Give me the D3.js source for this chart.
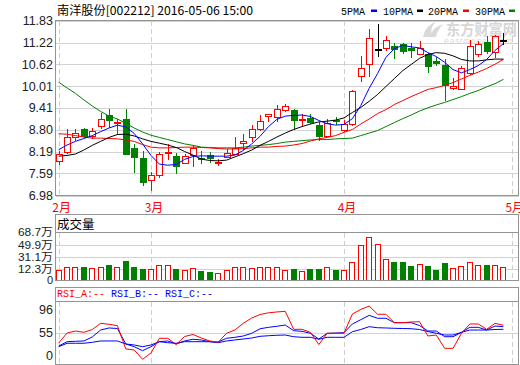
<!DOCTYPE html>
<html><head><meta charset="utf-8">
<script src="https://cdn.jsdelivr.net/npm/d3@7"></script>
<style>body{margin:0;background:#fff}svg{display:block}</style>
</head><body><svg id="c" width="520" height="365"></svg>
<script>
const dates = ["2016-02-15","2016-02-16","2016-02-17","2016-02-18","2016-02-19","2016-02-22","2016-02-23","2016-02-24","2016-02-25","2016-02-26","2016-02-29",
"2016-03-01","2016-03-02","2016-03-03","2016-03-04","2016-03-07","2016-03-08","2016-03-09","2016-03-10","2016-03-11","2016-03-14","2016-03-15","2016-03-16","2016-03-17","2016-03-18","2016-03-21","2016-03-22","2016-03-23","2016-03-24","2016-03-25","2016-03-28","2016-03-29","2016-03-30","2016-03-31",
"2016-04-01","2016-04-05","2016-04-06","2016-04-07","2016-04-08","2016-04-11","2016-04-12","2016-04-13","2016-04-14","2016-04-15","2016-04-18","2016-04-19","2016-04-20","2016-04-21","2016-04-22","2016-04-25","2016-04-26","2016-04-27","2016-04-28","2016-04-29"];
const open  = [7.93,8.19,8.60,8.82,8.64,8.91,9.21,9.00,9.11,8.30,8.03,7.40,7.54,8.17,8.08,7.89,8.10,8.03,8.09,7.90,8.05,8.14,8.43,8.60,8.81,9.19,9.15,9.36,9.34,9.08,9.12,8.93,8.64,9.07,8.80,8.95,10.29,10.63,11.03,11.07,11.12,11.18,11.07,10.91,10.89,10.72,10.61,9.97,9.94,10.38,10.91,11.23,10.96,11.30];
const high  = [8.21,8.82,8.82,8.86,8.86,9.27,9.37,9.09,9.37,8.41,8.21,7.64,8.19,8.41,8.16,8.12,8.39,8.21,8.19,7.98,8.28,8.60,8.69,8.93,9.21,9.25,9.50,9.52,9.38,9.23,9.25,9.02,9.09,9.15,9.07,9.90,10.86,11.60,11.72,11.40,11.21,11.21,11.21,11.26,10.94,10.82,10.77,10.24,10.56,11.28,11.26,11.41,11.42,11.47];
const low   = [7.84,8.17,8.52,8.60,8.58,8.86,8.87,8.69,8.12,7.64,7.28,7.13,7.49,8.00,7.60,7.87,7.79,7.89,7.90,7.82,8.04,8.12,8.28,8.49,8.79,9.04,9.04,9.33,8.81,8.92,8.99,8.53,8.63,8.97,8.76,8.93,10.15,10.29,10.86,11.01,10.80,10.93,10.83,10.90,10.40,10.60,9.62,9.92,9.92,10.35,10.84,10.93,10.82,11.19];
const close = [8.14,8.60,8.71,8.62,8.78,9.11,9.08,9.02,8.14,8.04,7.35,7.54,8.14,8.19,7.80,8.08,8.30,8.02,8.01,7.91,8.17,8.30,8.50,8.81,9.04,9.23,9.37,9.45,9.07,9.09,9.01,8.64,9.00,9.05,8.97,9.87,10.52,11.35,11.03,11.28,11.03,10.98,11.00,11.07,10.58,10.64,10.03,10.01,10.50,11.12,11.17,10.98,11.41,11.30];
const ma5  = [8.25,8.38,8.48,8.56,8.64,8.75,8.85,8.93,8.88,8.70,8.41,8.09,7.85,7.82,7.84,7.98,8.06,8.08,8.07,8.07,8.07,8.10,8.23,8.41,8.62,8.89,9.09,9.18,9.20,9.21,9.17,9.06,8.97,8.93,8.95,9.11,9.47,9.95,10.36,10.81,11.05,11.14,11.10,11.07,10.94,10.83,10.67,10.47,10.38,10.47,10.58,10.75,11.00,11.19];
const ma10 = [8.07,8.09,8.13,8.24,8.37,8.48,8.59,8.67,8.68,8.63,8.55,8.48,8.43,8.38,8.31,8.20,8.10,7.99,7.95,7.94,7.96,8.05,8.14,8.24,8.37,8.48,8.60,8.71,8.81,8.89,8.96,9.02,9.04,9.07,9.13,9.28,9.42,9.59,9.78,10.00,10.22,10.44,10.61,10.78,10.89,10.94,10.92,10.85,10.75,10.71,10.71,10.74,10.76,10.76];
const ma20 = [8.69,8.68,8.64,8.60,8.57,8.57,8.56,8.55,8.52,8.48,8.39,8.32,8.30,8.30,8.31,8.32,8.32,8.31,8.30,8.28,8.27,8.27,8.28,8.30,8.32,8.32,8.34,8.35,8.38,8.42,8.49,8.55,8.59,8.64,8.73,8.81,8.96,9.10,9.25,9.36,9.50,9.61,9.72,9.82,9.92,9.97,10.03,10.11,10.21,10.31,10.40,10.50,10.62,10.75];
const ma30 = [10.12,9.96,9.81,9.63,9.46,9.31,9.18,9.10,8.98,8.85,8.74,8.65,8.59,8.53,8.47,8.41,8.37,8.32,8.31,8.30,8.30,8.30,8.32,8.35,8.37,8.39,8.42,8.46,8.48,8.50,8.52,8.53,8.53,8.55,8.56,8.57,8.64,8.71,8.78,8.89,9.00,9.11,9.21,9.32,9.41,9.49,9.56,9.64,9.72,9.81,9.89,9.99,10.08,10.20];
const volume = [11.4,16.4,16.4,15.5,14.0,16.4,19.0,15.5,25.1,15.5,12.9,12.9,18.5,18.5,12.9,11.4,14.0,9.9,8.4,6.4,11.4,16.4,15.5,14.9,15.5,15.5,15.5,11.4,12.9,9.9,12.9,12.9,15.5,11.4,11.4,23.1,49.4,61.1,50.9,27.7,23.6,23.6,17.5,20.5,17.5,11.4,22.5,14.0,17.5,23.1,19.0,19.0,19.0,15.5];
const rsiA = [39.6,54.9,57.9,55.9,60.2,69.6,68.1,66.0,30.5,29.0,14.8,24.4,46.8,46.8,37.3,49.5,52.6,47.2,42.7,40.7,54.4,59.4,69.6,77.7,83.0,85.6,86.9,87.9,60.5,60.5,55.9,37.3,54.4,54.4,54.4,83.8,90.7,96.0,83.4,83.4,70.6,70.6,71.6,72.1,50.3,51.8,31.5,31.5,54.4,68.6,68.6,60.5,69.6,66.6];
const rsiB = [35.0,41.6,42.2,42.7,48.8,59.4,62.5,61.7,38.1,34.0,27.9,34.0,41.6,42.7,38.1,42.7,45.3,44.2,41.6,41.1,46.8,48.3,50.3,54.4,61.3,63.5,65.1,67.0,58.4,57.4,54.4,45.7,54.4,54.9,55.3,68.6,75.1,81.8,77.3,77.3,70.6,70.6,70.6,66.3,57.9,57.9,49.2,49.2,55.9,63.5,63.5,59.4,65.5,64.5];
const rsiC = [34.0,39.2,39.2,39.2,40.7,42.7,42.7,42.7,38.1,36.6,34.0,36.6,41.6,40.1,39.2,41.6,41.6,41.6,41.6,40.1,42.7,44.2,45.7,47.2,49.8,50.7,51.4,51.8,49.2,48.3,48.3,45.3,48.3,48.3,48.3,56.8,60.2,64.5,62.9,62.5,62.0,61.7,61.4,60.2,57.1,54.4,51.8,51.8,55.9,59.4,59.4,59.4,60.2,60.5];
const priceTicks = [6.98,7.59,8.19,8.80,9.41,10.01,10.62,11.22,11.83];
const volTicks = [0,12.3,31.1,49.9,68.7];
const rsiTicks = [0,55,96];
const monthLabels = ["2月","3月","4月","5月"];
const titleText = "南洋股份[002212] 2016-05-06 15:00";
const maNames = ["5PMA","10PMA","20PMA","30PMA"];
const maColors = ["#0000ff","#000000","#ff0000","#008000"];
const rsiNames = ["RSI_A:--","RSI_B:--","RSI_C:--"];
const rsiColors = ["#ff0000","#0000ff","#0000ff"];

const svg = d3.select("#c");
const L = 55.5, R = 518.5;
const P = {top:20.5, bottom:195.5};
const V = {top:214.5, sep:232.5, bottom:280.5};
const S = {top:287.5, sep:301.5, bottom:364.5};
const n = dates.length;
const RED = "#ff0000", GREEN = "#008000";
const numFont = '"Liberation Sans", Arial, "Noto Sans CJK SC", sans-serif';
const cjkFont = '"Noto Sans CJK SC", "Liberation Sans", sans-serif';
const monoFont = '"Liberation Mono", "DejaVu Sans Mono", monospace';

const x = d3.scaleLinear().domain([0, n]).range([58.7, 511.8]);
const yP = d3.scaleLinear().domain([priceTicks[0], priceTicks[priceTicks.length-1]]).range([P.bottom, P.top]);
const yV = d3.scaleLinear().domain([0, volTicks[volTicks.length-1]]).range([277.5, 232.3]);
const yR = d3.scaleLinear().domain([0, 96]).range([369, 306]);

const monthPos = monthLabels.map(m => {
  const mm = parseInt(m);
  const idx = dates.findIndex(d => +d.slice(5,7) === mm);
  return idx < 0 ? n : idx;
});

// watermark
const wm = svg.append("g");
wm.append("path").attr("d","M423,37 Q425,26 436,21.5 Q430,28 431.5,33 Q434,27 443.5,24 Q437,30 436,37 Z").attr("fill","#d9d9d9");
wm.append("text").attr("x",446).attr("y",35).attr("font-family",cjkFont).attr("font-weight","bold")
  .attr("font-size",15).attr("fill","#d6d6d6").attr("textLength",71).attr("lengthAdjust","spacingAndGlyphs").text("东方财富网");
wm.append("text").attr("x",444).attr("y",43.5).attr("font-family",numFont).attr("font-style","italic")
  .attr("font-size",8.5).attr("fill","#dadada").attr("textLength",68).attr("lengthAdjust","spacing").text("eastmoney.com");

// grids
const grid = svg.append("g").attr("shape-rendering","crispEdges");
priceTicks.forEach(t => {
  const yy = Math.round(yP(t)) + 0.5;
  grid.append("line").attr("x1",L).attr("x2",R).attr("y1",yy).attr("y2",yy).attr("stroke","#d2d2d2");
});
volTicks.slice(1).forEach(t => {
  const yy = Math.round(yV(t)) + 0.5;
  grid.append("line").attr("x1",L).attr("x2",R).attr("y1",yy).attr("y2",yy).attr("stroke","#d2d2d2");
});
{
  const yy = Math.round(yR(55)) + 0.5;
  grid.append("line").attr("x1",L).attr("x2",R).attr("y1",yy).attr("y2",yy).attr("stroke","#d2d2d2");
}
monthPos.forEach(idx => {
  const xx = Math.round(x(idx)) + 0.5;
  [[P.top,P.bottom],[V.sep,V.bottom],[S.sep,S.bottom]].forEach(([a,b]) => {
    grid.append("line").attr("x1",xx).attr("x2",xx).attr("y1",a).attr("y2",b)
      .attr("stroke","#cfcfcf").attr("stroke-dasharray","5,3");
  });
});

// candles
const cg = svg.append("g").attr("shape-rendering","crispEdges");
dates.forEach((d,i) => {
  const o = open[i], c = close[i];
  const col = c > o ? RED : (c < o ? GREEN : "#000000");
  const px = Math.round(x(i));
  const yt = Math.round(yP(Math.max(o,c))), yb = Math.round(yP(Math.min(o,c)));
  const yh = Math.round(yP(high[i])), yl = Math.round(yP(low[i]));
  cg.append("line").attr("x1",px+0.5).attr("x2",px+0.5).attr("y1",yh).attr("y2",yl+1).attr("stroke",col);
  if (yb - yt <= 1) {
    cg.append("rect").attr("x",px-3).attr("y",yt).attr("width",7).attr("height",2).attr("fill",col);
  } else if (c > o) {
    cg.append("rect").attr("x",px-2.5).attr("y",yt+0.5).attr("width",6).attr("height",yb-yt)
      .attr("fill","#fff").attr("stroke",RED);
  } else {
    cg.append("rect").attr("x",px-3).attr("y",yt).attr("width",7).attr("height",yb-yt+1).attr("fill",GREEN);
  }
});

// MA lines
const maSeries = [ma30, ma20, ma10, ma5];
const maCols = [maColors[3], maColors[2], maColors[1], maColors[0]];
const lineP = d3.line().x((d,i) => x(i)).y(d => yP(d));
maSeries.forEach((s,k) => {
  svg.append("path").attr("d", lineP(s)).attr("fill","none").attr("stroke",maCols[k]).attr("stroke-width",1);
});

// volume bars
const vg = svg.append("g").attr("shape-rendering","crispEdges");
volume.forEach((v,i) => {
  const up = close[i] >= open[i];
  const px = Math.round(x(i));
  const yt = Math.round(yV(v));
  if (up) {
    vg.append("rect").attr("x",px-2.5).attr("y",yt+0.5).attr("width",5).attr("height",279.5-yt)
      .attr("fill","#fff").attr("stroke",RED);
  } else {
    vg.append("rect").attr("x",px-3).attr("y",yt).attr("width",6).attr("height",280-yt).attr("fill",GREEN);
  }
});

// RSI lines
const lineR = d3.line().x((d,i) => x(i)).y(d => yR(d));
[rsiC, rsiB, rsiA].forEach((s,k) => {
  svg.append("path").attr("d", lineR(s)).attr("fill","none")
    .attr("stroke", [rsiColors[2], rsiColors[1], rsiColors[0]][k]).attr("stroke-width",1);
});

// borders
const bg = svg.append("g").attr("shape-rendering","crispEdges").attr("fill","none").attr("stroke","#939393");
bg.append("rect").attr("x",L).attr("y",P.top).attr("width",R-L).attr("height",P.bottom-P.top);
bg.append("rect").attr("x",L).attr("y",V.top).attr("width",R-L).attr("height",V.bottom-V.top);
bg.append("line").attr("x1",L).attr("x2",R).attr("y1",V.sep).attr("y2",V.sep);
bg.append("rect").attr("x",L).attr("y",S.top).attr("width",R-L).attr("height",S.bottom-S.top);
bg.append("line").attr("x1",L).attr("x2",R).attr("y1",S.sep).attr("y2",S.sep);

// axis labels
const ax = svg.append("g").attr("font-family",numFont).attr("font-size",12.5).attr("fill","#222").attr("text-anchor","end");
priceTicks.forEach(t => {
  ax.append("text").attr("x",53).attr("y",yP(t)).attr("dy","0.36em").text(t.toFixed(2));
});
volTicks.forEach(t => {
  const yy = t === 0 ? 280.5 : yV(t);
  const tx = ax.append("text").attr("x",53).attr("y",yy).attr("dy","0.36em").attr("font-size",11)
    .text(t === 0 ? "0" : t.toFixed(1) + "万");
  if (t !== 0) tx.attr("textLength",35).attr("lengthAdjust","spacingAndGlyphs");
});
rsiTicks.forEach(t => {
  const yy = Math.min(355, Math.max(309, yR(t)));
  ax.append("text").attr("x",53).attr("y",yy).attr("dy","0.36em").text(String(t));
});

// month labels
monthLabels.forEach((m,k) => {
  svg.append("text").attr("x", x(monthPos[k]) + 3).attr("y",211.5).attr("text-anchor","middle")
    .attr("font-family",cjkFont).attr("font-size",12).attr("fill",RED).text(m);
});

// title and legend
svg.append("text").attr("x",57).attr("y",15).attr("font-family",cjkFont).attr("font-size",12)
  .attr("fill","#000").attr("textLength",196).attr("lengthAdjust","spacingAndGlyphs").text(titleText);
const legX = [341, 383, 428, 475];
const legW = [24, 30, 30, 30];
const dashX = [371, 417, 463, 509];
maNames.forEach((nm,k) => {
  svg.append("text").attr("x",legX[k]).attr("y",14.5).attr("font-family",monoFont).attr("font-size",11)
    .attr("fill","#000").attr("textLength",legW[k]).attr("lengthAdjust","spacingAndGlyphs").text(nm);
  svg.append("rect").attr("x",dashX[k]).attr("y",9.5).attr("width",6).attr("height",2.5).attr("fill",maColors[k]);
});

svg.append("text").attr("x",57).attr("y",228.5).attr("font-family",cjkFont).attr("font-size",12.5)
  .attr("fill","#000").text("成交量");

const rsiX = [57, 111, 165];
rsiNames.forEach((nm,k) => {
  svg.append("text").attr("x",rsiX[k]).attr("y",297).attr("font-family",monoFont).attr("font-size",11)
    .attr("fill",rsiColors[k]).attr("textLength",48).attr("lengthAdjust","spacingAndGlyphs").text(nm);
});
</script></body></html>
